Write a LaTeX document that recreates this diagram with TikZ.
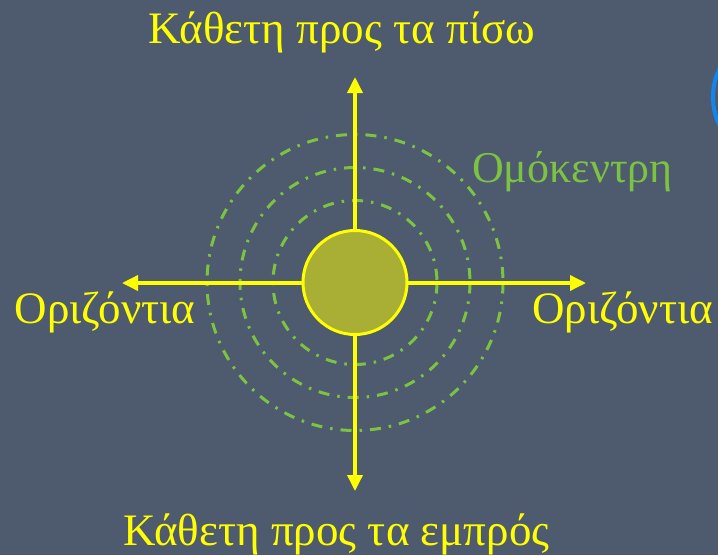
\documentclass[tikz,border=0pt]{standalone}
\usepackage{fontspec}
\setmainfont{Liberation Serif}
\usetikzlibrary{arrows.meta}
\definecolor{bgc}{HTML}{4E5A6E}
\definecolor{ylw}{HTML}{FFFF00}
\definecolor{grn}{HTML}{7DC342}
\definecolor{olv}{HTML}{A9AE35}
\definecolor{blu}{HTML}{1485F0}
\tikzset{
  axis/.style={draw=ylw, line width=3.5pt, {Triangle[width=15pt,length=16pt]}-{Triangle[width=15pt,length=16pt]}},
  ring/.style={draw=grn, line width=3pt, dash pattern=on 11pt off 8pt on 2.5pt off 8pt},
  ylab/.style={text=ylw, font=\fontsize{45}{50}\selectfont, anchor=base, inner sep=0pt},
  glab/.style={text=grn, font=\fontsize{44}{48}\selectfont, anchor=base, inner sep=0pt},
}
\begin{document}
\begin{tikzpicture}[x=1pt,y=-1pt]
\fill[bgc] (0,0) rectangle (718,555);
\useasboundingbox (0,0) rectangle (718,555);
\begin{scope}
\clip (0,0) rectangle (718,555);
\draw[blu, line width=4pt] (778,97) circle (65);
\end{scope}
\coordinate (c) at (355,282.5);
\coordinate (topc) at (355,77);
\coordinate (botc) at (355,491);
\coordinate (lftc) at (122,283);
\coordinate (rgtc) at (586,283);
\draw[ring] (c) circle (82);
\draw[ring] (c) circle (115);
\draw[ring] (c) circle (148);
\draw[axis] (botc) -- (topc);
\draw[axis] (lftc) -- (rgtc);
\node[circle, draw=ylw, fill=olv, line width=3pt, minimum size=104pt, inner sep=0pt] (core) at (c) {};
\node[ylab] (t1) at (342,43) {Κάθετη προς τα πίσω};
\node[ylab] (t2) at (336.5,545) {Κάθετη προς τα εμπρός};
\node[ylab] (t3) at (105,323) {Οριζόντια};
\node[ylab] (t4) at (622.5,323) {Οριζόντια};
\node[glab] (t5) at (572.5,182) {Ομόκεντρη};
\end{tikzpicture}
\end{document}
